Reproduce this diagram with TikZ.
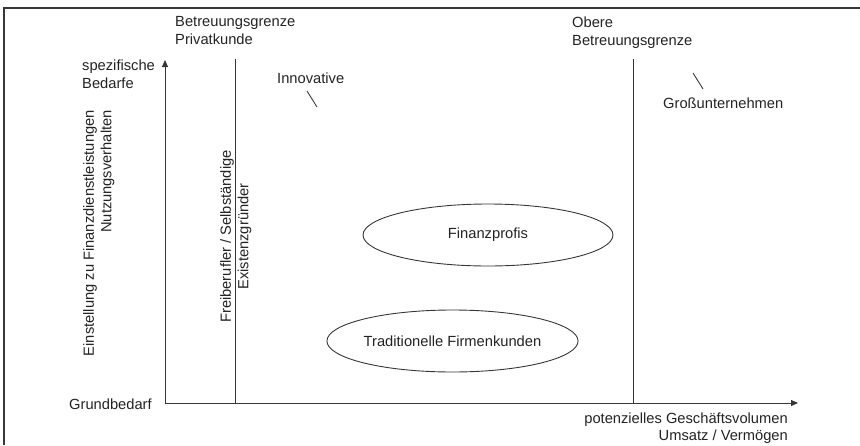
\documentclass[tikz,border=0pt]{standalone}
\usepackage{fontspec}
\setmainfont{Liberation Sans}
\usetikzlibrary{arrows.meta,shapes.geometric}
\definecolor{linec}{RGB}{55,55,55}
\definecolor{textc}{RGB}{35,35,35}
\begin{document}
\begin{tikzpicture}[x=1pt,y=-1pt,
  txt/.style={inner sep=0pt,text=textc,font=\fontsize{14.7}{17.5}\selectfont},
  ln/.style={draw=linec,line width=0.9pt},
  axis/.style={ln,-{Triangle[length=7pt,width=6pt]}},
  oval/.style={ellipse,ln,minimum width=250pt,minimum height=62pt,inner sep=0pt,text=textc,font=\fontsize{14.7}{17.5}\selectfont}]
\useasboundingbox (0,0) rectangle (860,445);
% frame
\coordinate (fr1) at (4,445);
\coordinate (fr2) at (4,8);
\coordinate (fr3) at (860,8);
\draw[ln,line width=1.1pt] (fr1) -- (fr2) -- (fr3);
% axes
\coordinate (o) at (165,403);
\coordinate (ytip) at (165,60);
\coordinate (xtip) at (798,403);
\draw[axis] (o) -- (ytip);
\draw[axis] (o) -- (xtip);
% boundaries
\coordinate (b1t) at (235,59);
\coordinate (b1b) at (235,403);
\coordinate (b2t) at (633,59);
\coordinate (b2b) at (633,403);
\draw[ln] (b1t) -- (b1b);
\draw[ln] (b2t) -- (b2b);
% labels
\node[txt,anchor=north west,align=left] (bp) at (175,16.5) {Betreuungsgrenze\\Privatkunde};
\node[txt,anchor=north west,align=left] (ob) at (572,17) {Obere\\Betreuungsgrenze};
\node[txt,anchor=north west,align=left] (sb) at (82,60) {spezifische\\Bedarfe};
\node[txt,anchor=north west] (gb) at (69,398.5) {Grundbedarf};
\node[txt,anchor=north east,align=right] (gv) at (788,412.5) {potenzielles Geschäftsvolumen\\Umsatz / Vermögen};
\node[txt,anchor=north east,align=right,rotate=90] (ein) at (83,110) {Einstellung zu Finanzdienstleistungen\\Nutzungsverhalten};
\node[txt,anchor=north,align=center,rotate=90] (fb) at (220,236.5) {Freiberufler / Selbständige\\Existenzgründer};
\node[txt,anchor=north west] (inn) at (277,72.5) {Innovative};
\node[txt,anchor=north west] (gu) at (663,97.5) {Großunternehmen};
% pointer strokes
\coordinate (i1) at (307,91);
\coordinate (i2) at (317,107);
\draw[ln] (i1) -- (i2);
\coordinate (g1) at (693,73);
\coordinate (g2) at (703,89);
\draw[ln] (g1) -- (g2);
% ellipses
\node[oval] (fp) at (488,235) {Finanzprofis};
\node[oval,minimum width=251pt] (tf) at (452.5,341) {Traditionelle Firmenkunden};
\end{tikzpicture}
\end{document}
